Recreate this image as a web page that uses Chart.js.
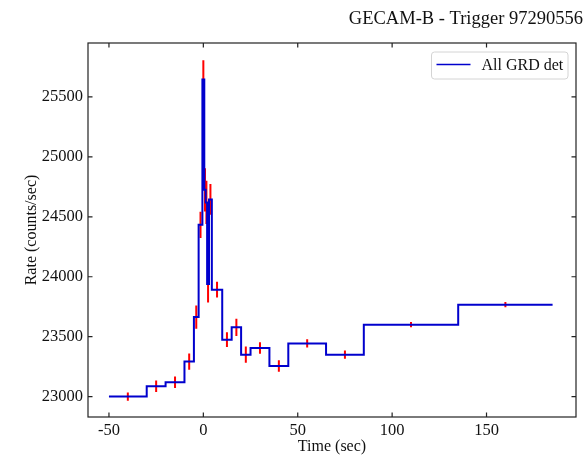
<!DOCTYPE html>
<html>
<head>
<meta charset="utf-8">
<title>GECAM-B light curve</title>
<script src="https://cdn.jsdelivr.net/npm/chart.js@4/dist/chart.umd.min.js"></script>
<style>
    html, body { margin: 0; padding: 0; background: #fff; }
    #wrap { width: 587px; height: 455px; }
</style>
</head>
<body>
<div id="wrap"><canvas id="lightCurve"></canvas></div>
<script>
// Light curve bins: edges (sec), rate per bin and 1-sigma error (counts/sec)
const binEdges = [-50, -30, -20, -10, -5, -2.5, -0.5, 0.5, 1.25, 2, 3, 4.5, 10, 15, 20, 25, 35, 45, 65, 85, 135, 185];
const binRates = [23000, 23086, 23120, 23292, 23664, 24433, 25646, 24725, 24620, 23940, 24645, 23892, 23475, 23578, 23350, 23406, 23256, 23444, 23350, 23600, 23767];
const binErrors = [34, 48, 48, 68, 97, 110, 160, 180, 180, 155, 128, 66, 62, 72, 68, 48, 48, 34, 34, 22, 22];

const xTicks = [-50, 0, 50, 100, 150];
const yTicks = [23000, 23500, 24000, 24500, 25000, 25500];

const SERIF = "'Liberation Serif', 'Times New Roman', serif";

// Step curve: one point per bin start, last point closes the final bin
const stepPoints = binRates.map((r, i) => ({ x: binEdges[i], y: r }));
stepPoints.push({ x: binEdges[binEdges.length - 1], y: binRates[binRates.length - 1] });

// Error bars as separate vertical segments at bin centres
const errorPoints = [];
binRates.forEach((r, i) => {
    const c = (binEdges[i] + binEdges[i + 1]) / 2;
    errorPoints.push({ x: c, y: r - binErrors[i] });
    errorPoints.push({ x: c, y: r + binErrors[i] });
    errorPoints.push({ x: c, y: null });
});

// Axes frame with inward ticks on all four sides
const framePlugin = {
    id: 'frame',
    afterDatasetsDraw(chart) {
        const { ctx, chartArea: a, scales } = chart;
        const len = 4.5;
        ctx.save();
        ctx.strokeStyle = '#222';
        ctx.lineWidth = 1.2;
        ctx.beginPath();
        xTicks.forEach(v => {
            const px = scales.x.getPixelForValue(v);
            ctx.moveTo(px, a.bottom); ctx.lineTo(px, a.bottom - len);
            ctx.moveTo(px, a.top); ctx.lineTo(px, a.top + len);
        });
        yTicks.forEach(v => {
            const py = scales.y.getPixelForValue(v);
            ctx.moveTo(a.left, py); ctx.lineTo(a.left + len, py);
            ctx.moveTo(a.right, py); ctx.lineTo(a.right - len, py);
        });
        ctx.stroke();
        ctx.strokeRect(a.left, a.top, a.right - a.left, a.bottom - a.top);
        ctx.restore();
    }
};

// Legend box in the upper right corner of the plot
const legendPlugin = {
    id: 'cornerLegend',
    afterDraw(chart) {
        const { ctx, chartArea: a } = chart;
        const ds = chart.data.datasets[0];
        const w = 136.5, h = 27;
        const x = a.right - 8 - w, y = a.top + 9;
        ctx.save();
        ctx.fillStyle = 'rgba(255,255,255,0.8)';
        ctx.strokeStyle = '#d4d4d4';
        ctx.lineWidth = 1;
        ctx.beginPath();
        ctx.roundRect(x, y, w, h, 3);
        ctx.fill();
        ctx.stroke();
        ctx.strokeStyle = ds.borderColor;
        ctx.lineWidth = 1.6;
        ctx.beginPath();
        ctx.moveTo(x + 5, y + h / 2 - 1);
        ctx.lineTo(x + 39, y + h / 2 - 1);
        ctx.stroke();
        ctx.fillStyle = '#111';
        ctx.font = '16px ' + SERIF;
        ctx.textBaseline = 'middle';
        ctx.fillText(ds.label, x + 50, y + h / 2);
        ctx.restore();
    }
};

const plainNumber = v => String(v);

new Chart(document.getElementById('lightCurve'), {
    type: 'line',
    data: {
        datasets: [
            {
                label: 'All GRD det',
                data: stepPoints,
                stepped: 'before',
                borderColor: '#0000cd',
                borderWidth: 2,
                pointRadius: 0,
                fill: false
            },
            {
                label: 'errors',
                data: errorPoints,
                borderColor: '#ff0000',
                borderWidth: 2,
                pointRadius: 0,
                spanGaps: false,
                fill: false
            }
        ]
    },
    plugins: [framePlugin, legendPlugin],
    options: {
        responsive: true,
        maintainAspectRatio: false,
        animation: false,
        layout: { padding: { left: 0, right: 4, top: 0, bottom: 0 } },
        plugins: {
            legend: { display: false },
            tooltip: { enabled: false },
            title: {
                display: true,
                text: 'GECAM-B - Trigger 97290556',
                align: 'end',
                color: '#111',
                font: { family: SERIF, size: 18.5, weight: 'normal', lineHeight: 1.2 },
                padding: { top: 8, bottom: 12.8 }
            }
        },
        scales: {
            x: {
                type: 'linear',
                min: -61.1,
                max: 197.4,
                grid: { display: false, drawTicks: false },
                border: { display: false },
                afterBuildTicks: s => { s.ticks = xTicks.map(v => ({ value: v })); },
                afterFit: s => { s.height = 38; },
                ticks: {
                    color: '#111',
                    padding: 4,
                    maxRotation: 0,
                    autoSkip: false,
                    callback: plainNumber,
                    font: { family: SERIF, size: 16.5 }
                },
                title: {
                    display: true,
                    text: 'Time (sec)',
                    color: '#111',
                    font: { family: SERIF, size: 16, lineHeight: 1 },
                    padding: { top: 0, bottom: 0 }
                }
            },
            y: {
                type: 'linear',
                min: 22830,
                max: 25950,
                grid: { display: false, drawTicks: false },
                border: { display: false },
                afterBuildTicks: s => { s.ticks = yTicks.map(v => ({ value: v })); },
                afterFit: s => { s.width = 88; },
                ticks: {
                    color: '#111',
                    padding: 5,
                    autoSkip: false,
                    callback: plainNumber,
                    font: { family: SERIF, size: 16.5 }
                },
                title: {
                    display: true,
                    text: 'Rate (counts/sec)',
                    color: '#111',
                    font: { family: SERIF, size: 16, lineHeight: 1 },
                    padding: { top: 23.5, bottom: 0 }
                }
            },
            // spacer on the right so the title can run past the frame
            yRight: {
                type: 'linear',
                position: 'right',
                display: true,
                grid: { display: false, drawTicks: false },
                border: { display: false },
                ticks: { display: false },
                afterFit: s => { s.width = 7; }
            }
        }
    }
});
</script>
</body>
</html>
